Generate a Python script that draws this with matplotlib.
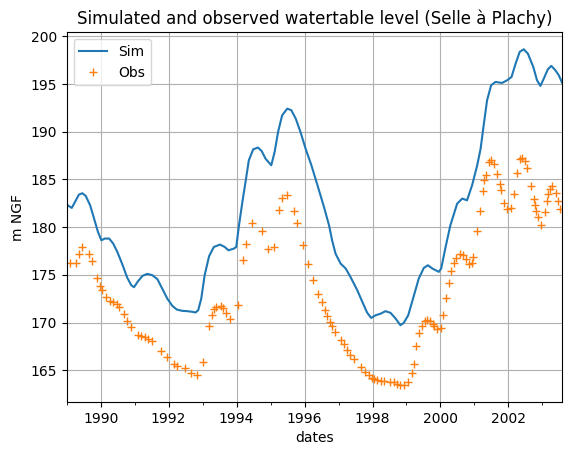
import numpy as np
import pandas as pd
import matplotlib
matplotlib.use('Agg')
import matplotlib.pyplot as plt
import matplotlib.dates as mdates

# simulated level (decimal year, m NGF)
simYears = [1989.00, 1989.15, 1989.27, 1989.36, 1989.46, 1989.56, 1989.69, 1989.80, 1989.92,
            1990.02, 1990.12, 1990.25, 1990.37, 1990.49, 1990.64, 1990.78, 1990.90, 1990.98,
            1991.10, 1991.23, 1991.37, 1991.52, 1991.67, 1991.81, 1991.96, 1992.11, 1992.24,
            1992.40, 1992.55, 1992.70, 1992.79, 1992.87, 1992.96, 1993.06, 1993.19, 1993.33,
            1993.51, 1993.65, 1993.76, 1993.92, 1993.99, 1994.07, 1994.17, 1994.27, 1994.36,
            1994.49, 1994.63, 1994.74, 1994.85, 1995.02, 1995.12, 1995.22, 1995.34, 1995.49,
            1995.61, 1995.74, 1995.88, 1996.03, 1996.19, 1996.37, 1996.57, 1996.72, 1996.81,
            1996.91, 1997.06, 1997.21, 1997.35, 1997.55, 1997.70, 1997.84, 1997.96, 1998.09,
            1998.24, 1998.38, 1998.53, 1998.68, 1998.82, 1998.92, 1999.05, 1999.22, 1999.36,
            1999.51, 1999.63, 1999.76, 1999.95, 2000.02, 2000.15, 2000.29, 2000.49, 2000.64,
            2000.78, 2000.93, 2001.08, 2001.18, 2001.27, 2001.37, 2001.49, 2001.62, 2001.81,
            2001.96, 2002.09, 2002.21, 2002.33, 2002.45, 2002.57, 2002.73, 2002.84, 2002.94,
            2003.04, 2003.16, 2003.26, 2003.38, 2003.48, 2003.59]
simLevel = [182.36, 182.01, 182.81, 183.41, 183.55, 183.27, 182.29, 180.96, 179.50,
            178.62, 178.80, 178.80, 178.27, 177.40, 176.07, 174.71, 173.91, 173.70,
            174.33, 174.89, 175.10, 174.96, 174.54, 173.56, 172.51, 171.74, 171.36,
            171.22, 171.19, 171.12, 171.05, 171.29, 172.51, 174.96, 176.95, 177.92,
            178.17, 177.92, 177.57, 177.75, 177.92, 180.19, 182.64, 184.91, 187.01,
            188.16, 188.34, 187.96, 187.18, 186.48, 187.89, 189.97, 191.72, 192.42,
            192.25, 191.37, 189.97, 188.22, 186.60, 184.50, 182.12, 180.19, 178.62,
            177.23, 176.18, 175.66, 174.78, 173.39, 172.16, 171.04, 170.48, 170.76,
            170.93, 171.19, 171.01, 170.41, 169.72, 169.97, 170.76, 172.86, 174.61,
            175.73, 176.00, 175.66, 175.31, 175.66, 177.92, 180.19, 182.46, 182.99,
            182.81, 184.39, 186.48, 188.22, 190.67, 193.29, 194.87, 195.22, 195.11,
            195.39, 195.74, 197.14, 198.37, 198.64, 198.19, 196.79, 195.39, 194.80,
            195.57, 196.55, 196.90, 196.44, 195.92, 195.04]

# observed level
obsYears = [1989.10, 1989.27, 1989.36, 1989.45, 1989.67, 1989.73, 1989.88, 1989.97, 1990.04,
            1990.17, 1990.26, 1990.35, 1990.47, 1990.54, 1990.69, 1990.78, 1990.89, 1991.10,
            1991.20, 1991.29, 1991.39, 1991.52, 1991.78, 1991.94, 1992.16, 1992.26, 1992.47,
            1992.65, 1992.82, 1993.01, 1993.19, 1993.28, 1993.33, 1993.40, 1993.53, 1993.60,
            1993.70, 1993.81, 1994.05, 1994.18, 1994.27, 1994.45, 1994.74, 1994.91, 1995.11,
            1995.26, 1995.35, 1995.47, 1995.68, 1995.78, 1995.96, 1996.10, 1996.25, 1996.39,
            1996.50, 1996.59, 1996.67, 1996.75, 1996.82, 1996.90, 1997.08, 1997.16,
            1997.26, 1997.35, 1997.45, 1997.65, 1997.79, 1997.89, 1997.97, 1998.04, 1998.14,
            1998.24, 1998.33, 1998.51, 1998.63, 1998.73, 1998.82, 1998.94, 1999.04, 1999.15,
            1999.22, 1999.29, 1999.38, 1999.45, 1999.53, 1999.61, 1999.69, 1999.77, 1999.82,
            1999.90, 2000.00, 2000.07, 2000.15, 2000.25, 2000.32, 2000.39, 2000.47, 2000.57,
            2000.65, 2000.74, 2000.84, 2000.92, 2000.95, 2001.08, 2001.16, 2001.25, 2001.29,
            2001.34, 2001.43, 2001.50, 2001.57, 2001.67, 2001.74, 2001.77, 2001.88, 2001.96,
            2002.08, 2002.16, 2002.24, 2002.33, 2002.41, 2002.48, 2002.55, 2002.65, 2002.75,
            2002.79, 2002.82, 2002.86, 2002.97, 2003.07, 2003.12, 2003.16, 2003.22, 2003.29,
            2003.41, 2003.47, 2003.53]
obsLevel = [176.28, 176.28, 177.19, 177.92, 177.22, 176.49, 174.71, 173.84, 173.45,
            172.68, 172.30, 172.16, 171.95, 171.64, 170.90, 170.17, 169.58, 168.74,
            168.56, 168.46, 168.25, 168.04, 167.03, 166.43, 165.63, 165.42, 165.25,
            164.76, 164.55, 165.91, 169.61, 170.76, 171.43, 171.67, 171.71, 171.57,
            171.04, 170.41, 171.81, 176.60, 178.20, 180.47, 179.57, 177.68, 177.92,
            181.77, 183.09, 183.41, 181.73, 180.40, 178.08, 176.09, 174.43, 173.00,
            172.13, 171.29, 170.66, 170.07, 169.61, 169.02, 168.14, 167.73, 167.17,
            166.64, 166.19, 165.35, 164.83, 164.48, 164.23, 164.09, 163.95, 163.88,
            163.85, 163.78, 163.75, 163.60, 163.43, 163.43, 163.78, 164.72, 165.70,
            167.52, 168.95, 169.65, 170.14, 170.24, 170.14, 169.89, 169.61, 169.37,
            169.47, 170.83, 172.53, 174.15, 175.41, 176.25, 176.77, 177.23, 177.12,
            176.63, 176.18, 176.28, 176.88, 179.57, 181.66, 183.79, 184.91, 185.47,
            186.87, 187.08, 186.59, 185.61, 184.49, 183.93, 182.57, 181.94, 182.01,
            183.51, 185.71, 187.11, 187.29, 186.94, 186.20, 184.28, 182.99, 182.29,
            181.70, 181.07, 180.19, 181.62, 182.71, 183.51, 184.04, 184.28, 183.58,
            182.71, 181.87]


def toDates(years):
    years = np.asarray(years)
    return pd.Timestamp('1989-01-01') + pd.to_timedelta((years - 1989) * 365.25, unit='D')


simDates = toDates(simYears)
obsDates = toDates(obsYears)

fig, ax = plt.subplots(figsize=(5.71, 4.55), dpi=100)
fig.subplots_adjust(left=0.1168, right=0.9848, bottom=0.1165, top=0.9286)

ax.plot(simDates, simLevel, color='C0', label='Sim')
ax.plot(obsDates, obsLevel, '+', color='C1', label='Obs')

ax.set_xlim(pd.Timestamp('1989-01-01'), pd.Timestamp('2003-08-03'))
ax.xaxis.set_major_locator(mdates.YearLocator(2))
ax.xaxis.set_minor_locator(mdates.YearLocator(1))
ax.xaxis.set_major_formatter(mdates.DateFormatter('%Y'))
ax.grid(True)
ax.set_xlabel('dates')
ax.set_ylabel('m NGF')
ax.set_title('Simulated and observed watertable level (Selle à Plachy)')
ax.legend(loc='upper left')

fig.savefig('out.png', dpi=100)
